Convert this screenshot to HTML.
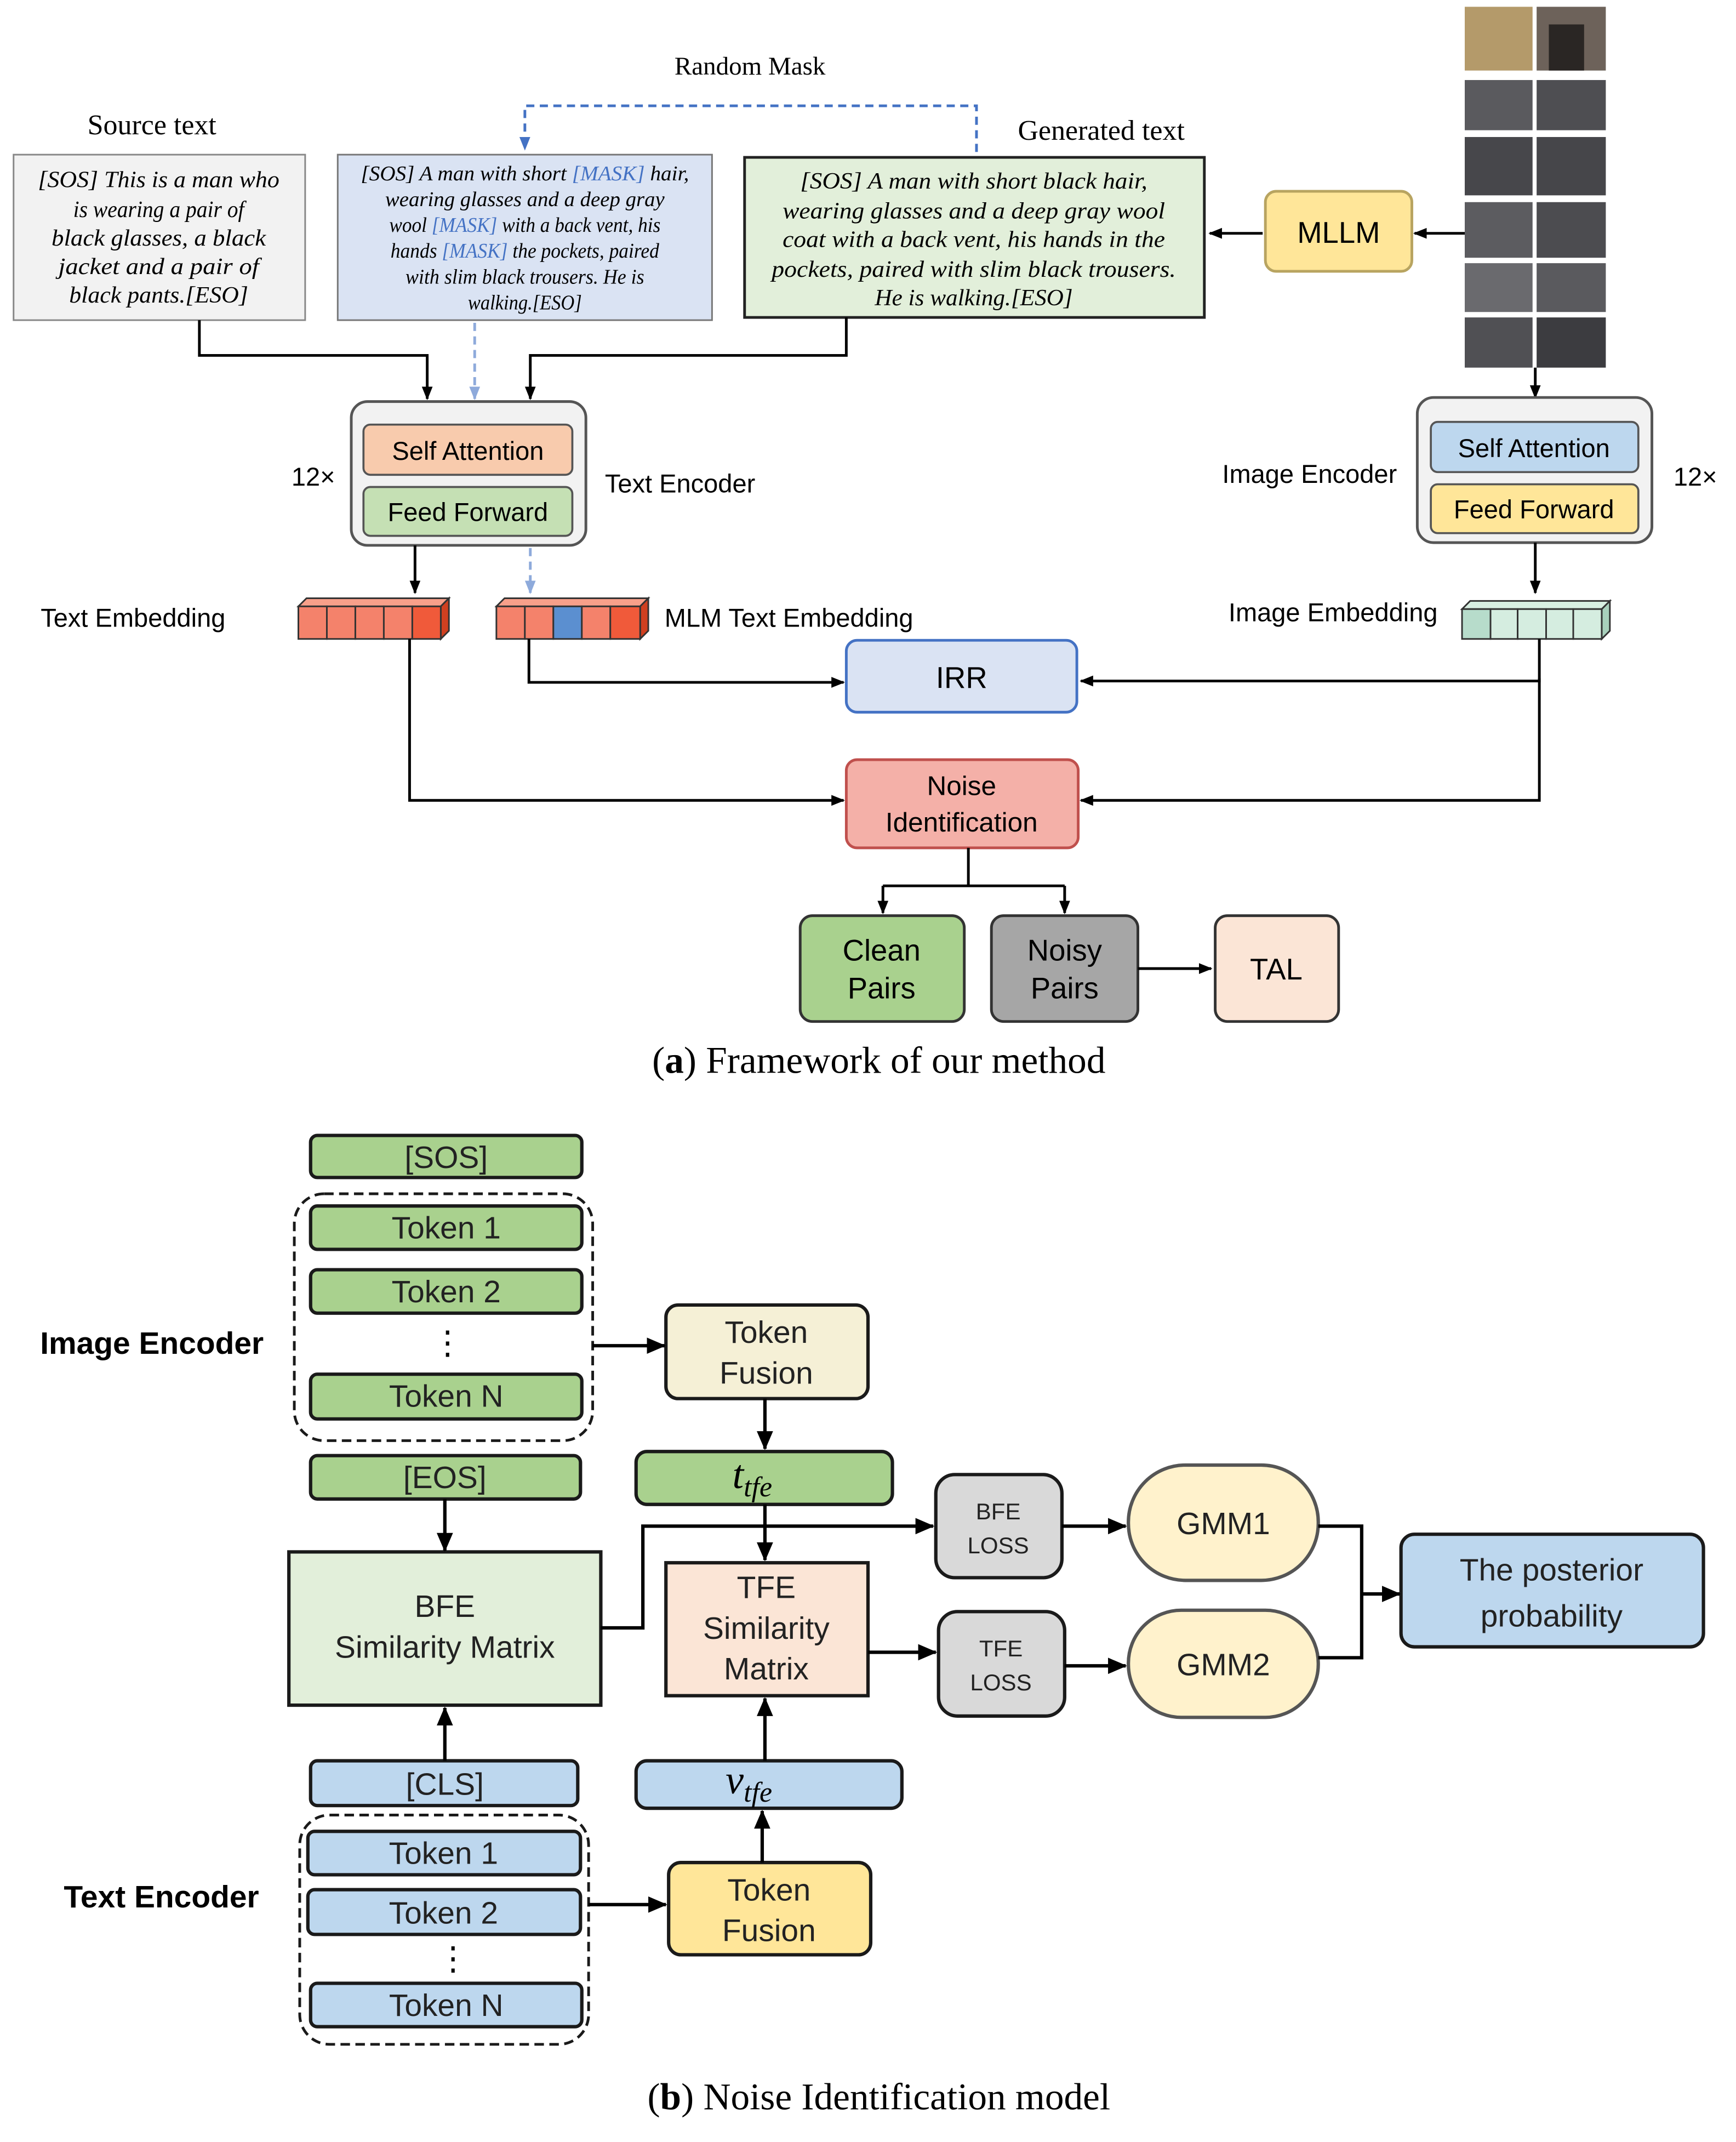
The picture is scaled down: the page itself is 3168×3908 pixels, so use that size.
<!DOCTYPE html>
<html><head><meta charset="utf-8"><style>
html,body{margin:0;padding:0;background:#fff}
svg{display:block}
.s{font-family:"Liberation Sans",sans-serif}
.r{font-family:"Liberation Serif",serif}
.i{font-family:"Liberation Serif",serif;font-style:italic}
</style></head><body>
<svg width="3168" height="3908" viewBox="0 0 1280 1579" preserveAspectRatio="none" xmlns="http://www.w3.org/2000/svg">
<defs>
<marker id="a" markerWidth="10" markerHeight="10" refX="9" refY="5" orient="auto" markerUnits="userSpaceOnUse"><path d="M0,1 L10,5 L0,9 z" fill="#000"/></marker>
<marker id="ab" markerWidth="14" markerHeight="14" refX="13" refY="7" orient="auto" markerUnits="userSpaceOnUse"><path d="M0,1 L14,7 L0,13 z" fill="#000"/></marker>
<marker id="ad" markerWidth="10" markerHeight="10" refX="9" refY="5" orient="auto" markerUnits="userSpaceOnUse"><path d="M0,1 L10,5 L0,9 z" fill="#4472c4"/></marker>
<marker id="al" markerWidth="10" markerHeight="10" refX="9" refY="5" orient="auto" markerUnits="userSpaceOnUse"><path d="M0,1 L10,5 L0,9 z" fill="#8eaadb"/></marker>
</defs>
<rect width="1280" height="1579" fill="#fff"/>

<!-- Part A -->
<text x="553" y="55" class="r" font-size="19" text-anchor="middle">Random Mask</text>
<path d="M720,112 V78 H387 V110" fill="none" stroke="#4472c4" stroke-width="2" stroke-dasharray="6,4" marker-end="url(#ad)"/>
<text x="112" y="99" class="r" font-size="21" text-anchor="middle">Source text</text>
<text x="812" y="103" class="r" font-size="21" text-anchor="middle">Generated text</text>

<rect x="10" y="114" width="215" height="122" fill="#f2f2f2" stroke="#888" stroke-width="1.2"/>
<g class="i" font-size="17" text-anchor="middle">
<text x="117" y="138" textLength="178" lengthAdjust="spacingAndGlyphs">[SOS] This is a man who</text>
<text x="117" y="160" textLength="126" lengthAdjust="spacingAndGlyphs">is wearing a pair of</text>
<text x="117" y="181" textLength="158" lengthAdjust="spacingAndGlyphs">black glasses, a black</text>
<text x="117" y="202" textLength="148" lengthAdjust="spacingAndGlyphs">jacket and a pair of</text>
<text x="117" y="223" textLength="132" lengthAdjust="spacingAndGlyphs">black pants.[ESO]</text>
</g>

<rect x="249" y="114" width="276" height="122" fill="#dae3f3" stroke="#777" stroke-width="1.2"/>
<g class="i" font-size="15.5" text-anchor="middle">
<text x="387" y="133" textLength="242" lengthAdjust="spacingAndGlyphs">[SOS] A man with short <tspan fill="#4472c4">[MASK]</tspan> hair,</text>
<text x="387" y="152" textLength="206" lengthAdjust="spacingAndGlyphs">wearing glasses and a deep gray</text>
<text x="387" y="171" textLength="200" lengthAdjust="spacingAndGlyphs">wool <tspan fill="#4472c4">[MASK]</tspan> with a back vent, his</text>
<text x="387" y="190" textLength="198" lengthAdjust="spacingAndGlyphs">hands <tspan fill="#4472c4">[MASK]</tspan> the pockets, paired</text>
<text x="387" y="209" textLength="176" lengthAdjust="spacingAndGlyphs">with slim black trousers. He is</text>
<text x="387" y="228" textLength="84" lengthAdjust="spacingAndGlyphs">walking.[ESO]</text>
</g>

<rect x="549" y="116" width="339" height="118" fill="#e2efda" stroke="#222" stroke-width="2"/>
<g class="i" font-size="17" text-anchor="middle">
<text x="718" y="139" textLength="256" lengthAdjust="spacingAndGlyphs">[SOS] A man with short black hair,</text>
<text x="718" y="161" textLength="282" lengthAdjust="spacingAndGlyphs">wearing glasses and a deep gray wool</text>
<text x="718" y="182" textLength="282" lengthAdjust="spacingAndGlyphs">coat with a back vent, his hands in the</text>
<text x="718" y="204" textLength="298" lengthAdjust="spacingAndGlyphs">pockets, paired with slim black trousers.</text>
<text x="718" y="225" textLength="146" lengthAdjust="spacingAndGlyphs">He is walking.[ESO]</text>
</g>

<rect x="933" y="141" width="108" height="59" rx="8" fill="#ffe699" stroke="#b8a460" stroke-width="2"/>
<text x="987" y="179" class="s" font-size="22" text-anchor="middle">MLLM</text>
<line x1="1080" y1="172" x2="1043" y2="172" stroke="#000" stroke-width="2" marker-end="url(#a)"/>
<line x1="931" y1="172" x2="892" y2="172" stroke="#000" stroke-width="2" marker-end="url(#a)"/>

<!-- photo -->
<g>
<rect x="1080" y="5" width="104" height="266" fill="#fff"/>
<rect x="1080" y="5" width="50" height="47" fill="#b49a6a"/>
<rect x="1133" y="5" width="51" height="47" fill="#6d625a"/>
<rect x="1142" y="18" width="26" height="34" fill="#2a2624"/>
<rect x="1080" y="59" width="50" height="37" fill="#5a5a5e"/>
<rect x="1133" y="59" width="51" height="37" fill="#4e4e52"/>
<rect x="1080" y="101" width="50" height="43" fill="#47474b"/>
<rect x="1133" y="101" width="51" height="43" fill="#46464a"/>
<rect x="1080" y="149" width="50" height="41" fill="#5c5c60"/>
<rect x="1133" y="149" width="51" height="41" fill="#4c4c50"/>
<rect x="1080" y="194" width="50" height="36" fill="#6a6a6e"/>
<rect x="1133" y="194" width="51" height="36" fill="#5a5a5e"/>
<rect x="1080" y="234" width="50" height="37" fill="#505054"/>
<rect x="1133" y="234" width="51" height="37" fill="#3c3c40"/>
</g>
<line x1="1132" y1="271" x2="1132" y2="293" stroke="#000" stroke-width="2" marker-end="url(#a)"/>

<path d="M147,236 V262 H315 V294" fill="none" stroke="#000" stroke-width="2" marker-end="url(#a)"/>
<path d="M624,234 V262 H391 V294" fill="none" stroke="#000" stroke-width="2" marker-end="url(#a)"/>
<line x1="350" y1="238" x2="350" y2="294" stroke="#8eaadb" stroke-width="2" stroke-dasharray="6,4" marker-end="url(#al)"/>

<rect x="259" y="296" width="173" height="106" rx="12" fill="#f2f2f2" stroke="#555" stroke-width="2"/>
<rect x="268" y="313" width="154" height="37" rx="5" fill="#f8cbad" stroke="#555" stroke-width="1.5"/>
<text x="345" y="339" class="s" font-size="19" text-anchor="middle">Self Attention</text>
<rect x="268" y="359" width="154" height="36" rx="5" fill="#c5e0b4" stroke="#555" stroke-width="1.5"/>
<text x="345" y="384" class="s" font-size="19" text-anchor="middle">Feed Forward</text>
<text x="231" y="358" class="s" font-size="19" text-anchor="middle">12×</text>
<text x="446" y="363" class="s" font-size="19">Text Encoder</text>

<rect x="1045" y="293" width="173" height="107" rx="12" fill="#f2f2f2" stroke="#555" stroke-width="2"/>
<rect x="1055" y="311" width="153" height="37" rx="5" fill="#bdd7ee" stroke="#555" stroke-width="1.5"/>
<text x="1131" y="337" class="s" font-size="19" text-anchor="middle">Self Attention</text>
<rect x="1055" y="357" width="153" height="36" rx="5" fill="#ffe699" stroke="#555" stroke-width="1.5"/>
<text x="1131" y="382" class="s" font-size="19" text-anchor="middle">Feed Forward</text>
<text x="1030" y="356" class="s" font-size="19" text-anchor="end">Image Encoder</text>
<text x="1250" y="358" class="s" font-size="19" text-anchor="middle">12×</text>

<line x1="306" y1="402" x2="306" y2="437" stroke="#000" stroke-width="2" marker-end="url(#a)"/>
<line x1="391" y1="404" x2="391" y2="437" stroke="#8eaadb" stroke-width="2" stroke-dasharray="6,4" marker-end="url(#al)"/>
<line x1="1132" y1="400" x2="1132" y2="437" stroke="#000" stroke-width="2" marker-end="url(#a)"/>

<!-- embeddings -->
<g stroke="#333" stroke-width="1.2">
<path d="M220,447 L226,441 L331,441 L325,447 z" fill="#f8a08a"/>
<path d="M325,447 L331,441 L331,465 L325,471 z" fill="#d04020"/>
<rect x="220" y="447" width="21" height="24" fill="#f4826b"/><rect x="241" y="447" width="21" height="24" fill="#f4826b"/><rect x="262" y="447" width="21" height="24" fill="#f4826b"/><rect x="283" y="447" width="21" height="24" fill="#f4826b"/><rect x="304" y="447" width="21" height="24" fill="#f05a3a"/>
<path d="M366,447 L372,441 L478,441 L472,447 z" fill="#f8a08a"/>
<path d="M472,447 L478,441 L478,465 L472,471 z" fill="#d04020"/>
<rect x="366" y="447" width="21" height="24" fill="#f4826b"/><rect x="387" y="447" width="21" height="24" fill="#f4826b"/><rect x="408" y="447" width="21" height="24" fill="#5b8fd0"/><rect x="429" y="447" width="21" height="24" fill="#f4826b"/><rect x="450" y="447" width="22" height="24" fill="#f05a3a"/>
<path d="M1078,449 L1084,443 L1187,443 L1181,449 z" fill="#d8efe2"/>
<path d="M1181,449 L1187,443 L1187,465 L1181,471 z" fill="#a8d0bc"/>
<rect x="1078" y="449" width="21" height="22" fill="#b7dccb"/><rect x="1099" y="449" width="20" height="22" fill="#d5ede0"/><rect x="1119" y="449" width="21" height="22" fill="#d5ede0"/><rect x="1140" y="449" width="20" height="22" fill="#d5ede0"/><rect x="1160" y="449" width="21" height="22" fill="#d5ede0"/>
</g>
<text x="30" y="462" class="s" font-size="19">Text Embedding</text>
<text x="490" y="462" class="s" font-size="19">MLM Text Embedding</text>
<text x="1060" y="458" class="s" font-size="19" text-anchor="end">Image Embedding</text>

<rect x="624" y="472" width="170" height="53" rx="8" fill="#dae3f3" stroke="#4472c4" stroke-width="2"/>
<text x="709" y="507" class="s" font-size="22" text-anchor="middle">IRR</text>
<path d="M390,471 V503 H622" fill="none" stroke="#000" stroke-width="2" marker-end="url(#a)"/>
<path d="M1135,471 V502 H797" fill="none" stroke="#000" stroke-width="2" marker-end="url(#a)"/>

<rect x="624" y="560" width="171" height="65" rx="8" fill="#f4b0a8" stroke="#c0504d" stroke-width="2"/>
<text x="709" y="586" class="s" font-size="20" text-anchor="middle">Noise</text>
<text x="709" y="613" class="s" font-size="20" text-anchor="middle">Identification</text>
<path d="M302,471 V590 H622" fill="none" stroke="#000" stroke-width="2" marker-end="url(#a)"/>
<path d="M1135,500 V590 H797" fill="none" stroke="#000" stroke-width="2" marker-end="url(#a)"/>

<path d="M714,625 V653 M651,653 H785" fill="none" stroke="#000" stroke-width="2"/>
<line x1="651" y1="653" x2="651" y2="673" stroke="#000" stroke-width="2" marker-end="url(#a)"/>
<line x1="785" y1="653" x2="785" y2="673" stroke="#000" stroke-width="2" marker-end="url(#a)"/>
<rect x="590" y="675" width="121" height="78" rx="9" fill="#a9d18e" stroke="#333" stroke-width="2"/>
<text x="650" y="708" class="s" font-size="22" text-anchor="middle">Clean</text>
<text x="650" y="736" class="s" font-size="22" text-anchor="middle">Pairs</text>
<rect x="731" y="675" width="108" height="78" rx="9" fill="#a6a6a6" stroke="#333" stroke-width="2"/>
<text x="785" y="708" class="s" font-size="22" text-anchor="middle">Noisy</text>
<text x="785" y="736" class="s" font-size="22" text-anchor="middle">Pairs</text>
<line x1="839" y1="714" x2="893" y2="714" stroke="#000" stroke-width="2" marker-end="url(#a)"/>
<rect x="896" y="675" width="91" height="78" rx="9" fill="#fbe5d6" stroke="#333" stroke-width="2"/>
<text x="941" y="722" class="s" font-size="22" text-anchor="middle">TAL</text>
<text x="648" y="791" class="r" font-size="28" text-anchor="middle">(<tspan font-weight="bold">a</tspan>) Framework of our method</text>

<!-- Part B -->
<g stroke="#1a1a1a" stroke-width="2.5">
<rect x="229" y="837" width="200" height="31" rx="5" fill="#a9d18e"/>
<rect x="229" y="889" width="200" height="32" rx="5" fill="#a9d18e"/>
<rect x="229" y="936" width="200" height="32" rx="5" fill="#a9d18e"/>
<rect x="229" y="1013" width="200" height="33" rx="5" fill="#a9d18e"/>
<rect x="229" y="1073" width="199" height="32" rx="5" fill="#a9d18e"/>
<rect x="229" y="1298" width="197" height="33" rx="5" fill="#bdd7ee"/>
<rect x="227" y="1350" width="201" height="32" rx="5" fill="#bdd7ee"/>
<rect x="227" y="1393" width="201" height="33" rx="5" fill="#bdd7ee"/>
<rect x="229" y="1462" width="200" height="32" rx="5" fill="#bdd7ee"/>
<rect x="469" y="1070" width="189" height="39" rx="8" fill="#a9d18e"/>
<rect x="469" y="1298" width="196" height="35" rx="8" fill="#bdd7ee"/>
<rect x="491" y="962" width="149" height="69" rx="9" fill="#f5f0d6"/>
<rect x="493" y="1373" width="149" height="68" rx="9" fill="#ffe699"/>
<rect x="213" y="1144" width="230" height="113" fill="#e2efda"/>
<rect x="491" y="1152" width="149" height="98" fill="#fbe5d6"/>
<rect x="690" y="1087" width="93" height="76" rx="14" fill="#d9d9d9"/>
<rect x="692" y="1188" width="93" height="77" rx="14" fill="#d9d9d9"/>
<rect x="1033" y="1131" width="223" height="83" rx="10" fill="#bdd7ee"/>
</g>
<g stroke="#555" stroke-width="2.5" fill="#fff2cc">
<rect x="832" y="1080" width="140" height="85" rx="42"/>
<rect x="832" y="1187" width="140" height="79" rx="39"/>
</g>
<rect x="217" y="880" width="220" height="182" rx="22" fill="none" stroke="#1a1a1a" stroke-width="2" stroke-dasharray="7,4"/>
<rect x="221" y="1338" width="213" height="169" rx="22" fill="none" stroke="#1a1a1a" stroke-width="2" stroke-dasharray="7,4"/>

<g class="s" font-size="23" text-anchor="middle" fill="#222">
<text x="329" y="861">[SOS]</text>
<text x="329" y="913">Token 1</text>
<text x="329" y="960">Token 2</text>
<text x="329" y="1037">Token N</text>
<text x="328" y="1097">[EOS]</text>
<text x="328" y="1323">[CLS]</text>
<text x="327" y="1374">Token 1</text>
<text x="327" y="1418">Token 2</text>
<text x="329" y="1486">Token N</text>
<text x="565" y="990">Token</text>
<text x="565" y="1020">Fusion</text>
<text x="567" y="1401">Token</text>
<text x="567" y="1431">Fusion</text>
<text x="328" y="1192">BFE</text>
<text x="328" y="1222">Similarity Matrix</text>
<text x="565" y="1178">TFE</text>
<text x="565" y="1208">Similarity</text>
<text x="565" y="1238">Matrix</text>
<text x="902" y="1131">GMM1</text>
<text x="902" y="1235">GMM2</text>
<text x="1144" y="1165">The posterior</text>
<text x="1144" y="1199">probability</text>
</g>
<g class="s" font-size="17" text-anchor="middle" fill="#222">
<text x="736" y="1120">BFE</text>
<text x="736" y="1145">LOSS</text>
<text x="738" y="1221">TFE</text>
<text x="738" y="1246">LOSS</text>
</g>
<text x="330" y="998" class="s" font-size="24" text-anchor="middle">⋮</text>
<text x="334" y="1452" class="s" font-size="24" text-anchor="middle">⋮</text>
<text x="112" y="998" class="s" font-size="23" font-weight="bold" text-anchor="middle">Image Encoder</text>
<text x="119" y="1406" class="s" font-size="23" font-weight="bold" text-anchor="middle">Text Encoder</text>
<text x="540" y="1097" class="i" font-size="30">t<tspan font-size="21" dy="6">tfe</tspan></text>
<text x="535" y="1322" class="i" font-size="30">v<tspan font-size="21" dy="6">tfe</tspan></text>

<g stroke="#000" stroke-width="2.5" fill="none">
<line x1="437" y1="992" x2="490" y2="992" marker-end="url(#ab)"/>
<line x1="564" y1="1031" x2="564" y2="1068" marker-end="url(#ab)"/>
<line x1="328" y1="1105" x2="328" y2="1143" marker-end="url(#ab)"/>
<path d="M443,1200 H474 V1125 H688" marker-end="url(#ab)"/>
<line x1="564" y1="1109" x2="564" y2="1150" marker-end="url(#ab)"/>
<line x1="640" y1="1218" x2="690" y2="1218" marker-end="url(#ab)"/>
<line x1="783" y1="1125" x2="830" y2="1125" marker-end="url(#ab)"/>
<line x1="785" y1="1228" x2="830" y2="1228" marker-end="url(#ab)"/>
<path d="M972,1125 H1004 V1222 H972"/>
<line x1="1004" y1="1175" x2="1032" y2="1175" marker-end="url(#ab)"/>
<line x1="328" y1="1298" x2="328" y2="1259" marker-end="url(#ab)"/>
<line x1="564" y1="1298" x2="564" y2="1252" marker-end="url(#ab)"/>
<line x1="562" y1="1373" x2="562" y2="1335" marker-end="url(#ab)"/>
<line x1="434" y1="1404" x2="491" y2="1404" marker-end="url(#ab)"/>
</g>
<text x="648" y="1555" class="r" font-size="28" text-anchor="middle">(<tspan font-weight="bold">b</tspan>) Noise Identification model</text>
</svg>
</body></html>
